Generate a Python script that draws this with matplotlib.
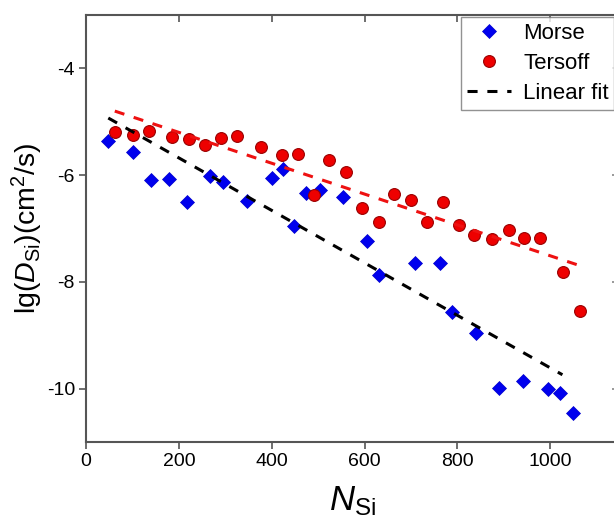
import matplotlib
matplotlib.use("Agg")
import matplotlib.pyplot as plt
import numpy as np

# Morse (blue diamonds)
morse_n = [47, 101, 140, 179, 218, 267, 295, 347, 400, 425, 448, 474, 504, 554,
           605, 631, 709, 763, 788, 840, 890, 942, 994, 1021, 1049]
morse_lgd = [-5.37, -5.57, -6.09, -6.07, -6.51, -6.02, -6.12, -6.49, -6.06, -5.89,
             -6.96, -6.33, -6.27, -6.41, -7.24, -7.88, -7.64, -7.64, -8.56, -8.95,
             -9.98, -9.86, -10.0, -10.08, -10.45]

# Tersoff (red circles)
tersoff_n = [62, 101, 136, 185, 222, 257, 291, 326, 377, 422, 457, 490, 524, 560,
             594, 630, 664, 700, 735, 769, 804, 836, 875, 910, 944, 978, 1028, 1063]
tersoff_lgd = [-5.19, -5.24, -5.17, -5.29, -5.32, -5.44, -5.31, -5.27, -5.47, -5.62,
               -5.61, -6.37, -5.71, -5.95, -6.62, -6.88, -6.35, -6.47, -6.87, -6.5,
               -6.93, -7.12, -7.2, -7.03, -7.18, -7.17, -7.81, -8.55]

# linear fit end points
morse_fit_n = [48, 1026]
morse_fit_lgd = [-4.93, -9.74]
tersoff_fit_n = [62, 1065]
tersoff_fit_lgd = [-4.80, -7.70]

xticks = [0, 200, 400, 600, 800, 1000]
yticks = [-10, -8, -6, -4]

plt.rcParams['font.family'] = ['Liberation Sans', 'DejaVu Sans']
plt.rcParams['mathtext.fontset'] = 'custom'
plt.rcParams['mathtext.rm'] = 'Liberation Sans'
plt.rcParams['mathtext.it'] = 'Liberation Sans:italic'
plt.rcParams['axes.unicode_minus'] = False

fig = plt.figure(figsize=(6.14, 5.2), dpi=100)
# axes runs a little past the right edge of the picture
ax = fig.add_axes([86/614, 1-442/520, 534/614, 427/520])

ax.plot(morse_n, morse_lgd, 'D', color='#0000ee', ms=7.5, mec='#0000cc', mew=0.5, label='Morse', zorder=3)
ax.plot(tersoff_n, tersoff_lgd, 'o', color='#ee0000', ms=8.5, mec='#990000', mew=0.8, label='Tersoff', zorder=3)
ax.plot(morse_fit_n, morse_fit_lgd, '--', color='black', lw=2.2, dashes=(3.3, 3.2), label='Linear fit', zorder=4)
ax.plot(tersoff_fit_n, tersoff_fit_lgd, '--', color='#ee1111', lw=2.2, dashes=(3.3, 3.2), zorder=4)

ax.set_xlim(0, 1150)
ax.set_ylim(-11, -3)
ax.set_xticks(xticks)
ax.set_yticks(yticks)
ax.tick_params(axis='both', which='major', labelsize=14, length=5, width=1.2,
               color='#555555', direction='out', pad=3)
for sp in ax.spines.values():
    sp.set_color('#555555')
    sp.set_linewidth(1.5)

# mirrored ticks pointing inward on top and right
sec = ax.secondary_xaxis('top')
sec.set_xticks(xticks)
sec.tick_params(direction='in', length=5, width=1.2, color='#555555', labeltop=False)
sec.spines['top'].set_visible(False)
secy = ax.secondary_yaxis('right')
secy.set_yticks(yticks)
secy.tick_params(direction='in', length=6, width=1.2, color='#888888', labelright=False)
secy.spines['right'].set_visible(False)

ax.set_xlabel(r'$\mathit{N}_{\mathrm{Si}}$', fontsize=25, labelpad=10)
ax.set_ylabel(r'lg($\mathit{D}_{\mathrm{Si}}$)(cm$^2$/s)', fontsize=20.5)
ax.yaxis.set_label_coords(-0.077, 0.5)

leg = ax.legend(loc='upper left', bbox_to_anchor=(461/614, 1-17/520), bbox_transform=fig.transFigure,
                fontsize=16, frameon=True, fancybox=False, edgecolor='#777777',
                handlelength=2.0, handletextpad=0.55, borderpad=0.25, borderaxespad=0,
                labelspacing=0.42)
leg.get_frame().set_linewidth(1.0)

fig.savefig('out.png', dpi=100)
